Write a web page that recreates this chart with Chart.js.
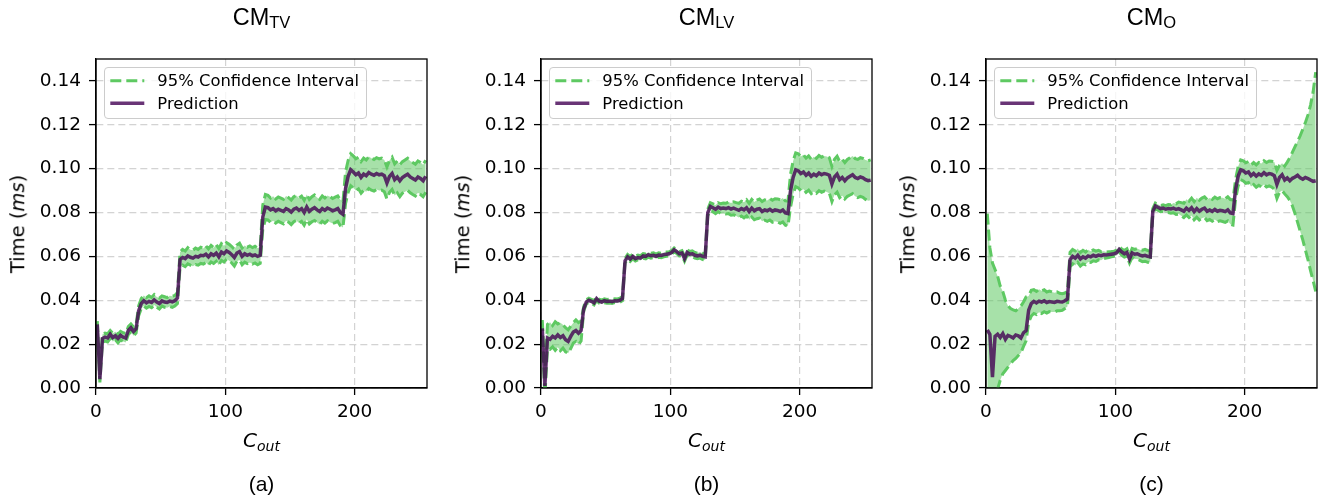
<!DOCTYPE html>
<html><head><meta charset="utf-8">
<script src="https://cdn.jsdelivr.net/npm/chart.js@4.4.1/dist/chart.umd.min.js"></script>
<style>
html,body{margin:0;padding:0;background:#fff;}
body{width:1327px;height:500px;position:relative;overflow:hidden;}
canvas.cv{position:absolute;top:0;}
.txt{position:absolute;white-space:nowrap;line-height:1;color:#000;}
.leg{position:absolute;box-sizing:border-box;border:1px solid #cccccc;border-radius:4px;background:rgba(255,255,255,0.8);}
svg.h{position:absolute;left:0;top:0;overflow:visible;}
</style></head><body>
<script>
// ---- data ----
const C_OUT = [
1,3,5,7,9,11,13,15,17,19,21,23,25,27,29,31,
33,35,37,39,41,43,45,47,49,51,53,55,57,59,61,63,
65,67,69,71,73,75,77,79,81,83,85,87,89,91,93,95,97,99,101,103,105,107,109,111,113,115,117,119,121,123,125,127,
129,131,133,135,137,139,141,143,145,147,149,151,153,155,157,159,161,163,165,167,169,171,173,175,177,179,181,183,185,187,189,191,
193,195,197,199,201,203,205,207,209,211,213,215,217,219,221,223,225,227,229,231,233,235,237,239,241,243,245,247,249,251,253,255];

// (a) CM_TV
const PRED_TV = [
0.0290,0.0040,0.0225,0.0232,0.0228,0.0245,0.0230,0.0238,0.0226,0.0240,0.0232,0.0228,0.0262,0.0275,0.0258,0.0270,
0.0352,0.0385,0.0398,0.0388,0.0395,0.0390,0.0402,0.0392,0.0385,0.0397,0.0392,0.0390,0.0396,0.0393,0.0398,0.0410,
0.0585,0.0595,0.0590,0.0602,0.0596,0.0592,0.0600,0.0597,0.0605,0.0603,0.0610,0.0598,0.0612,0.0605,0.0615,0.0598,0.0620,0.0612,0.0625,0.0618,0.0608,0.0595,0.0615,0.0622,0.0600,0.0612,0.0605,0.0610,0.0603,0.0607,0.0600,0.0605,
0.0780,0.0825,0.0822,0.0812,0.0818,0.0808,0.0815,0.0810,0.0805,0.0818,0.0812,0.0802,0.0815,0.0820,0.0810,0.0818,0.0800,0.0825,0.0805,0.0815,0.0822,0.0812,0.0805,0.0818,0.0810,0.0820,0.0815,0.0808,0.0812,0.0818,0.0800,0.0792,
0.0910,0.0965,0.0995,0.0985,0.0972,0.0980,0.0960,0.0975,0.0968,0.0982,0.0975,0.0970,0.0978,0.0972,0.0975,0.0968,0.0935,0.0965,0.0978,0.0950,0.0962,0.0945,0.0960,0.0968,0.0975,0.0962,0.0955,0.0948,0.0962,0.0955,0.0945,0.0965];
const UPPER_TV = [
0.0305,0.0060,0.0245,0.0250,0.0248,0.0262,0.0250,0.0256,0.0245,0.0258,0.0252,0.0248,0.0280,0.0292,0.0278,0.0288,
0.0375,0.0408,0.0422,0.0412,0.0420,0.0413,0.0426,0.0415,0.0410,0.0420,0.0416,0.0412,0.0421,0.0418,0.0422,0.0436,
0.0620,0.0632,0.0625,0.0640,0.0630,0.0628,0.0638,0.0632,0.0642,0.0636,0.0648,0.0634,0.0650,0.0640,0.0654,0.0636,0.0658,0.0648,0.0662,0.0655,0.0645,0.0632,0.0652,0.0660,0.0638,0.0650,0.0642,0.0648,0.0640,0.0646,0.0638,0.0642,
0.0835,0.0882,0.0878,0.0866,0.0874,0.0862,0.0871,0.0866,0.0860,0.0875,0.0868,0.0857,0.0872,0.0878,0.0866,0.0875,0.0856,0.0882,0.0860,0.0872,0.0880,0.0868,0.0860,0.0876,0.0866,0.0878,0.0872,0.0864,0.0870,0.0876,0.0858,0.0850,
0.0985,0.1038,0.1068,0.1058,0.1045,0.1052,0.1032,0.1048,0.1040,0.1055,0.1048,0.1042,0.1050,0.1045,0.1048,0.1040,0.1008,0.1038,0.1052,0.1022,0.1035,0.1018,0.1032,0.1040,0.1048,0.1035,0.1028,0.1020,0.1035,0.1028,0.1018,0.1038];
const LOWER_TV = [
0.0275,0.0025,0.0208,0.0214,0.0210,0.0226,0.0212,0.0220,0.0206,0.0220,0.0212,0.0208,0.0244,0.0256,0.0238,0.0250,
0.0330,0.0362,0.0374,0.0364,0.0372,0.0366,0.0378,0.0368,0.0360,0.0374,0.0368,0.0366,0.0372,0.0368,0.0374,0.0385,
0.0550,0.0560,0.0553,0.0566,0.0560,0.0555,0.0563,0.0560,0.0568,0.0565,0.0572,0.0560,0.0575,0.0568,0.0578,0.0560,0.0582,0.0574,0.0588,0.0580,0.0570,0.0556,0.0578,0.0584,0.0562,0.0574,0.0567,0.0572,0.0565,0.0570,0.0562,0.0568,
0.0725,0.0768,0.0766,0.0756,0.0762,0.0752,0.0760,0.0754,0.0748,0.0762,0.0756,0.0745,0.0758,0.0764,0.0752,0.0760,0.0742,0.0768,0.0748,0.0758,0.0764,0.0754,0.0746,0.0760,0.0752,0.0762,0.0756,0.0750,0.0754,0.0760,0.0740,0.0732,
0.0840,0.0892,0.0922,0.0912,0.0900,0.0908,0.0888,0.0902,0.0895,0.0910,0.0902,0.0898,0.0905,0.0900,0.0902,0.0895,0.0862,0.0892,0.0905,0.0878,0.0890,0.0872,0.0888,0.0895,0.0902,0.0890,0.0882,0.0875,0.0890,0.0882,0.0872,0.0892];

// (b) CM_LV
const PRED_LV = [
0.0272,0.0010,0.0228,0.0222,0.0236,0.0228,0.0242,0.0230,0.0238,0.0220,0.0212,0.0235,0.0255,0.0262,0.0250,0.0262,
0.0360,0.0392,0.0400,0.0395,0.0388,0.0408,0.0396,0.0392,0.0398,0.0395,0.0396,0.0394,0.0398,0.0397,0.0400,0.0408,
0.0580,0.0598,0.0588,0.0600,0.0590,0.0595,0.0592,0.0602,0.0600,0.0608,0.0603,0.0605,0.0600,0.0606,0.0604,0.0608,0.0610,0.0612,0.0618,0.0630,0.0622,0.0612,0.0615,0.0590,0.0618,0.0610,0.0612,0.0605,0.0602,0.0606,0.0600,0.0598,
0.0800,0.0828,0.0822,0.0815,0.0825,0.0818,0.0820,0.0818,0.0822,0.0816,0.0820,0.0815,0.0810,0.0818,0.0812,0.0822,0.0805,0.0820,0.0808,0.0815,0.0818,0.0805,0.0812,0.0808,0.0815,0.0806,0.0812,0.0810,0.0805,0.0812,0.0798,0.0795,
0.0900,0.0960,0.0995,0.0990,0.0978,0.0985,0.0970,0.0980,0.0965,0.0975,0.0968,0.0980,0.0972,0.0978,0.0975,0.0970,0.0930,0.0962,0.0975,0.0950,0.0960,0.0945,0.0958,0.0965,0.0972,0.0960,0.0955,0.0962,0.0958,0.0950,0.0945,0.0948];
const UPPER_LV = [
0.0310,0.0060,0.0290,0.0300,0.0285,0.0302,0.0292,0.0298,0.0288,0.0275,0.0265,0.0282,0.0298,0.0310,0.0298,0.0306,
0.0370,0.0402,0.0409,0.0404,0.0398,0.0417,0.0405,0.0401,0.0407,0.0404,0.0405,0.0403,0.0407,0.0406,0.0409,0.0418,
0.0590,0.0609,0.0599,0.0611,0.0601,0.0606,0.0603,0.0613,0.0611,0.0619,0.0614,0.0616,0.0610,0.0616,0.0614,0.0618,0.0620,0.0621,0.0627,0.0639,0.0631,0.0622,0.0626,0.0602,0.0630,0.0622,0.0625,0.0618,0.0615,0.0620,0.0614,0.0612,
0.0815,0.0845,0.0840,0.0834,0.0845,0.0840,0.0843,0.0842,0.0848,0.0843,0.0849,0.0845,0.0842,0.0852,0.0847,0.0858,0.0842,0.0860,0.0848,0.0857,0.0862,0.0850,0.0858,0.0855,0.0864,0.0856,0.0863,0.0862,0.0858,0.0866,0.0853,0.0852,
0.0975,0.1035,0.1072,0.1068,0.1055,0.1063,0.1048,0.1058,0.1043,0.1054,0.1047,0.1060,0.1052,0.1058,0.1056,0.1050,0.1010,0.1043,0.1057,0.1032,0.1043,0.1028,0.1042,0.1050,0.1058,0.1046,0.1042,0.1050,0.1047,0.1040,0.1036,0.1040];
const LOWER_LV = [
0.0240,-0.0040,0.0180,0.0176,0.0188,0.0172,0.0186,0.0170,0.0182,0.0165,0.0158,0.0180,0.0205,0.0212,0.0198,0.0214,
0.0350,0.0383,0.0391,0.0386,0.0379,0.0399,0.0387,0.0383,0.0389,0.0386,0.0387,0.0385,0.0389,0.0388,0.0391,0.0398,
0.0570,0.0587,0.0577,0.0589,0.0579,0.0584,0.0581,0.0591,0.0589,0.0597,0.0592,0.0594,0.0590,0.0596,0.0594,0.0598,0.0600,0.0603,0.0609,0.0621,0.0613,0.0602,0.0604,0.0578,0.0606,0.0598,0.0599,0.0592,0.0589,0.0592,0.0586,0.0584,
0.0785,0.0810,0.0803,0.0795,0.0804,0.0795,0.0796,0.0793,0.0795,0.0788,0.0790,0.0784,0.0777,0.0784,0.0776,0.0785,0.0767,0.0780,0.0767,0.0772,0.0774,0.0760,0.0765,0.0760,0.0766,0.0756,0.0760,0.0757,0.0751,0.0757,0.0742,0.0738,
0.0825,0.0885,0.0918,0.0912,0.0900,0.0906,0.0892,0.0902,0.0886,0.0896,0.0888,0.0900,0.0892,0.0898,0.0894,0.0888,0.0850,0.0881,0.0893,0.0868,0.0877,0.0862,0.0874,0.0880,0.0886,0.0874,0.0868,0.0874,0.0869,0.0860,0.0854,0.0856];

// (c) CM_O
const PRED_O = [
0.0265,0.0245,0.0050,0.0235,0.0245,0.0230,0.0248,0.0222,0.0240,0.0235,0.0228,0.0242,0.0238,0.0228,0.0252,0.0262,
0.0355,0.0385,0.0395,0.0388,0.0396,0.0392,0.0398,0.0390,0.0394,0.0392,0.0390,0.0395,0.0393,0.0392,0.0398,0.0406,
0.0585,0.0600,0.0592,0.0605,0.0588,0.0598,0.0592,0.0602,0.0598,0.0605,0.0600,0.0606,0.0603,0.0607,0.0606,0.0608,0.0610,0.0612,0.0616,0.0632,0.0620,0.0612,0.0618,0.0588,0.0616,0.0610,0.0612,0.0606,0.0602,0.0605,0.0600,0.0598,
0.0805,0.0830,0.0824,0.0818,0.0820,0.0815,0.0818,0.0816,0.0820,0.0814,0.0818,0.0812,0.0806,0.0820,0.0810,0.0822,0.0804,0.0818,0.0806,0.0815,0.0820,0.0806,0.0812,0.0805,0.0814,0.0806,0.0810,0.0808,0.0804,0.0812,0.0798,0.0795,
0.0905,0.0965,0.0995,0.0990,0.0980,0.0985,0.0968,0.0978,0.0966,0.0976,0.0970,0.0982,0.0972,0.0978,0.0975,0.0968,0.0928,0.0960,0.0972,0.0948,0.0958,0.0945,0.0956,0.0962,0.0970,0.0958,0.0952,0.0960,0.0955,0.0948,0.0942,0.0945];
const UPPER_O = [
0.0795,0.0640,0.0570,0.0540,0.0510,0.0465,0.0440,0.0400,0.0375,0.0362,0.0356,0.0352,0.0362,0.0374,0.0392,0.0415,
0.0420,0.0445,0.0448,0.0440,0.0450,0.0443,0.0448,0.0438,0.0442,0.0438,0.0434,0.0438,0.0432,0.0430,0.0433,0.0440,
0.0618,0.0632,0.0625,0.0636,0.0618,0.0628,0.0620,0.0630,0.0624,0.0630,0.0624,0.0628,0.0622,0.0624,0.0620,0.0621,0.0622,0.0624,0.0628,0.0644,0.0634,0.0627,0.0635,0.0606,0.0636,0.0632,0.0636,0.0630,0.0628,0.0632,0.0627,0.0624,
0.0818,0.0843,0.0837,0.0832,0.0835,0.0831,0.0836,0.0835,0.0843,0.0840,0.0848,0.0845,0.0842,0.0860,0.0852,0.0866,0.0850,0.0867,0.0856,0.0866,0.0872,0.0859,0.0866,0.0860,0.0870,0.0863,0.0868,0.0867,0.0863,0.0872,0.0859,0.0857,
0.0950,0.1010,0.1040,0.1036,0.1027,0.1033,0.1017,0.1028,0.1017,0.1028,0.1023,0.1036,0.1028,0.1035,0.1034,0.1030,0.0992,0.1015,0.1025,0.1012,0.1030,0.1050,0.1075,0.1100,0.1125,0.1150,0.1180,0.1210,0.1245,0.1290,0.1350,0.1440];
const LOWER_O = [
-0.0300,-0.0180,-0.0100,-0.0045,-0.0005,0.0035,0.0065,0.0080,0.0095,0.0110,0.0125,0.0135,0.0148,0.0160,0.0190,0.0215,
0.0300,0.0328,0.0340,0.0335,0.0345,0.0340,0.0348,0.0342,0.0348,0.0346,0.0346,0.0352,0.0352,0.0354,0.0362,0.0372,
0.0552,0.0566,0.0558,0.0572,0.0556,0.0566,0.0562,0.0574,0.0572,0.0580,0.0577,0.0584,0.0583,0.0590,0.0592,0.0595,0.0598,0.0600,0.0604,0.0620,0.0606,0.0597,0.0601,0.0570,0.0596,0.0588,0.0588,0.0582,0.0576,0.0578,0.0573,0.0572,
0.0792,0.0817,0.0811,0.0804,0.0805,0.0799,0.0800,0.0797,0.0799,0.0791,0.0793,0.0785,0.0777,0.0789,0.0777,0.0787,0.0767,0.0779,0.0766,0.0774,0.0778,0.0763,0.0768,0.0760,0.0768,0.0759,0.0762,0.0759,0.0755,0.0762,0.0747,0.0743,
0.0860,0.0920,0.0950,0.0944,0.0933,0.0937,0.0919,0.0928,0.0915,0.0924,0.0917,0.0928,0.0916,0.0921,0.0916,0.0906,0.0864,0.0892,0.0900,0.0885,0.0872,0.0855,0.0830,0.0795,0.0755,0.0715,0.0675,0.0630,0.0585,0.0535,0.0490,0.0440];

const Y_TICKS = [0.00,0.02,0.04,0.06,0.08,0.10,0.12,0.14];
const X_TICKS = [0,100,200];
const X_MAX = 256;
const Y_MAX = 0.15;
const TITLES_MAIN = ['CM','CM','CM'];
const TITLES_SUB = ['TV','LV','O'];
const CAPTIONS = ['(a)','(b)','(c)'];
const LEGEND_LABELS = ['95% Confidence Interval','Prediction'];

// ---- style / layout ----
const GREEN = '#5ec962';
const FILL = 'rgba(94,201,98,0.55)';
const PURPLE = 'rgba(68,1,84,0.8)';
const PANEL_X = [0,445,890];
const CANVAS_W = 435, CANVAS_H = 430;
const AXIS_W = 96, PLOT_W = 331, PLOT_TOP = 59, PLOT_BOTTOM = 388;

Chart.defaults.font.family = "'DejaVu Sans'";

const framePlugin = {
  id:'frame',
  afterDatasetsDraw(chart){
    const a = chart.chartArea, ctx = chart.ctx;
    ctx.save();
    ctx.strokeStyle = '#000'; ctx.lineWidth = 1.3;
    ctx.strokeRect(a.left, a.top, a.right - a.left, a.bottom - a.top);
    ctx.restore();
  }
};

function addText(html, left, top, style, transform){
  const d = document.createElement('div');
  d.className = 'txt';
  d.innerHTML = html;
  d.style.cssText += `left:${left}px;top:${top}px;${style}`;
  d.style.transform = transform || 'translateX(-50%)';
  document.body.appendChild(d);
  return d;
}

const series = [[PRED_TV,UPPER_TV,LOWER_TV],[PRED_LV,UPPER_LV,LOWER_LV],[PRED_O,UPPER_O,LOWER_O]];

series.forEach((s, p) => {
  s.forEach(arr => { if (arr.length !== C_OUT.length) throw new Error('length mismatch panel '+p+': '+arr.length); });
  const cv = document.createElement('canvas');
  cv.className = 'cv';
  cv.width = CANVAS_W; cv.height = CANVAS_H;
  cv.style.left = PANEL_X[p] + 'px';
  cv.style.width = CANVAS_W + 'px'; cv.style.height = CANVAS_H + 'px';
  document.body.appendChild(cv);
  const pts = arr => C_OUT.map((x, i) => ({x, y: arr[i]}));
  new Chart(cv, {
    type: 'line',
    data: { datasets: [
      {label: LEGEND_LABELS[1], data: pts(s[0]), borderColor: PURPLE, borderWidth: 3.5, pointRadius: 0, fill: false, clip: 0, tension: 0},
      {label: LEGEND_LABELS[0], data: pts(s[1]), borderColor: GREEN, borderWidth: 3, borderDash: [11,5], pointRadius: 0, fill: '+1', backgroundColor: FILL, clip: 0, tension: 0},
      {label: 'lower', data: pts(s[2]), borderColor: GREEN, borderWidth: 3, borderDash: [11,5], pointRadius: 0, fill: false, clip: 0, tension: 0}
    ]},
    options: {
      responsive: false, animation: false, devicePixelRatio: 1,
      layout: {padding: {top: PLOT_TOP, right: CANVAS_W - AXIS_W - PLOT_W, left: 0, bottom: 0}},
      plugins: {legend: {display: false}, tooltip: {enabled: false}, title: {display: false},
                filler: {drawTime: 'beforeDatasetsDraw', propagate: false}},
      scales: {
        x: {type: 'linear', min: 0, max: X_MAX,
            afterBuildTicks: sc => { sc.ticks = X_TICKS.map(v => ({value: v})); },
            afterFit: sc => { sc.height = CANVAS_H - PLOT_BOTTOM; },
            ticks: {font: {size: 18.5, family: "'DejaVu Sans'"}, color: '#000', padding: 6, maxRotation: 0, autoSkip: false,
                    callback: v => String(v)},
            grid: {color: 'rgba(150,150,150,0.42)', lineWidth: 1.2, tickLength: 7, tickColor: '#000', tickWidth: 1.3},
            border: {display: true, color: '#000', width: 1.3, dash: [7,4]}},
        y: {type: 'linear', min: 0, max: Y_MAX,
            afterBuildTicks: sc => { sc.ticks = Y_TICKS.map(v => ({value: v})); },
            afterFit: sc => { sc.width = AXIS_W; },
            ticks: {font: {size: 18.5, family: "'DejaVu Sans'"}, color: '#000', padding: 8, autoSkip: false,
                    callback: v => Number(v).toFixed(2)},
            grid: {color: 'rgba(150,150,150,0.42)', lineWidth: 1.2, tickLength: 7, tickColor: '#000', tickWidth: 1.3},
            border: {display: true, color: '#000', width: 1.3, dash: [7,4]}}
      }
    },
    plugins: [framePlugin]
  });

  const L = PANEL_X[p] + AXIS_W;
  const cx = L + PLOT_W / 2;
  // title
  addText(`${TITLES_MAIN[p]}<span style="font-size:16.5px;vertical-align:-2.6px">${TITLES_SUB[p]}</span>`,
          cx, 5.8, "font-family:'Liberation Sans';font-size:23.5px;");
  // x label
  addText(`<i>C</i><span style="font-size:14px;font-style:italic;vertical-align:-3.5px">out</span>`,
          cx, 429.8, "font-family:'DejaVu Sans';font-size:20px;");
  // y label
  addText(`Time (<i>ms</i>)`, PANEL_X[p] + 18, 224, "font-family:'DejaVu Sans';font-size:19.5px;",
          'translate(-50%,-50%) rotate(-90deg)');
  // caption
  addText(CAPTIONS[p], cx, 473.2, "font-family:'Liberation Sans';font-size:21px;");
  // legend
  const box = document.createElement('div');
  box.className = 'leg';
  box.style.left = (L + 8.3) + 'px'; box.style.top = '67px';
  box.style.width = '263px'; box.style.height = '52px';
  document.body.appendChild(box);
  const svgNS = 'http://www.w3.org/2000/svg';
  const svg = document.createElementNS(svgNS, 'svg');
  svg.setAttribute('class', 'h'); svg.setAttribute('width', '1327'); svg.setAttribute('height', '500');
  svg.style.position = 'absolute'; svg.style.left = '0'; svg.style.top = '0';
  const mk = (y, color, dash, w) => {
    const ln = document.createElementNS(svgNS, 'line');
    ln.setAttribute('x1', L + 14.3); ln.setAttribute('x2', L + 48.3);
    ln.setAttribute('y1', y); ln.setAttribute('y2', y);
    ln.setAttribute('stroke', color); ln.setAttribute('stroke-width', w);
    if (dash) ln.setAttribute('stroke-dasharray', dash);
    svg.appendChild(ln);
  };
  mk(80.7, GREEN, '11 5', 3);
  mk(103.3, PURPLE, null, 3.5);
  document.body.appendChild(svg);
  addText(LEGEND_LABELS[0], L + 61.3, 73.1, "font-family:'DejaVu Sans';font-size:16.4px;", 'none');
  addText(LEGEND_LABELS[1], L + 61.3, 95.7, "font-family:'DejaVu Sans';font-size:16.4px;", 'none');
});
</script>
</body></html>
